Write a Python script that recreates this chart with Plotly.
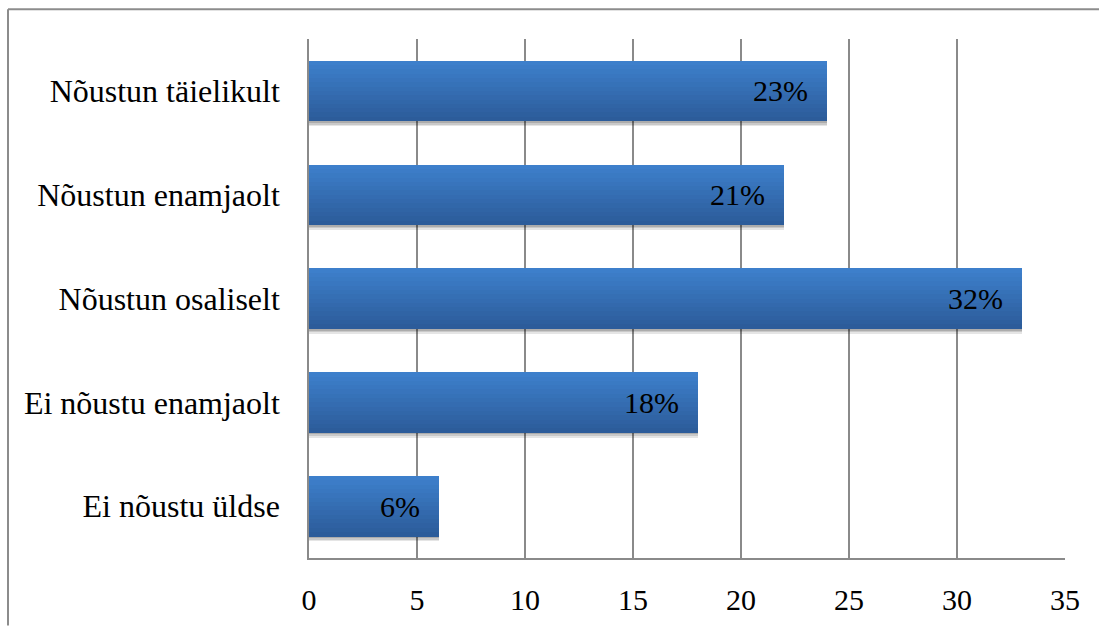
import plotly.graph_objects as go

categories = ["Nõustun täielikult", "Nõustun enamjaolt", "Nõustun osaliselt",
              "Ei nõustu enamjaolt", "Ei nõustu üldse"]
values = [24, 22, 33, 18, 6]
labels = ["23%", "21%", "32%", "18%", "6%"]
x_ticks = [0, 5, 10, 15, 20, 25, 30, 35]

W, H = 1099, 628
L, R, T, B = 309, 34, 39, 66
PW, PH = W - L - R, H - T - B

FONT = "Liberation Serif"
bar_w = 0.58
N = 14
top_rgb = (61, 127, 203)
bot_rgb = (44, 92, 154)

fig = go.Figure()

# soft shadow
for k, (dy, op) in enumerate([(0.05, 0.10), (0.035, 0.12), (0.02, 0.14)]):
    fig.add_trace(go.Bar(
        y=categories, x=values, orientation="h",
        width=bar_w, offset=-bar_w / 2 + dy,
        marker=dict(color=f"rgba(0,0,0,{op})", line=dict(width=0)),
        hoverinfo="skip", showlegend=False))

# gradient slices
for i in range(N):
    t = i / (N - 1)
    c = tuple(round(top_rgb[j] + (bot_rgb[j] - top_rgb[j]) * t) for j in range(3))
    fig.add_trace(go.Bar(
        y=categories, x=values, orientation="h",
        width=bar_w / N + 0.003, offset=-bar_w / 2 + i * bar_w / N,
        marker=dict(color=f"rgb{c}", line=dict(width=0)),
        hoverinfo="skip", showlegend=False))

for cat, v, lab in zip(categories, values, labels):
    fig.add_annotation(x=v, y=cat, text=lab, showarrow=False,
                       xanchor="right", yanchor="middle", xshift=-17, yshift=0,
                       font=dict(family=FONT, size=30, color="black"))

# outer frame (top and left edges)
def px_x(p):
    return (p - L) / PW

def px_y(p):
    return (H - B - p) / PH

fig.add_shape(type="line", xref="paper", yref="paper",
              x0=px_x(8), x1=px_x(1100), y0=px_y(9), y1=px_y(9),
              line=dict(color="#8c8c8c", width=2))
fig.add_shape(type="line", xref="paper", yref="paper",
              x0=px_x(8), x1=px_x(8), y0=px_y(9), y1=px_y(630),
              line=dict(color="#8c8c8c", width=2))

fig.update_layout(
    width=W, height=H,
    margin=dict(l=L, r=R, t=T, b=B, pad=0),
    paper_bgcolor="white", plot_bgcolor="white",
    barmode="overlay", bargap=0,
    showlegend=False,
    font=dict(family=FONT, size=29, color="black"),
    xaxis=dict(range=[0, 35], tickvals=x_ticks, ticktext=[str(t) for t in x_ticks],
               showgrid=True, gridcolor="#8a8a8a", gridwidth=1.5,
               zeroline=False, showline=True, linecolor="#8a8a8a", linewidth=1.5,
               ticks="", ticklabelstandoff=14,
               tickfont=dict(family=FONT, size=30, color="black"), fixedrange=True),
    yaxis=dict(categoryorder="array", categoryarray=categories, autorange="reversed",
               showgrid=False, zeroline=False, showline=True,
               linecolor="#8a8a8a", linewidth=1.5, ticks="", ticklabelstandoff=21,
               tickfont=dict(family=FONT, size=32, color="black"), fixedrange=True),
)

fig.write_html("out.html")
